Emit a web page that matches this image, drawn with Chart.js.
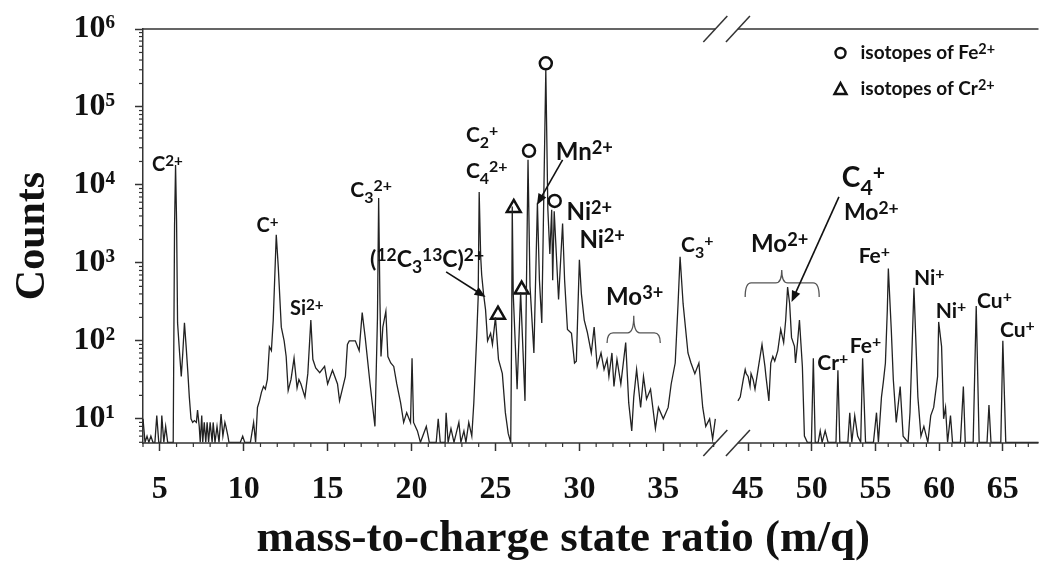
<!DOCTYPE html>
<html><head><meta charset="utf-8">
<script src="https://cdn.jsdelivr.net/npm/chart.js@4.4.1/dist/chart.umd.min.js"></script>
<style>html,body{margin:0;padding:0;background:#fff}canvas{display:block}</style>
</head><body>
<canvas id="c" width="1049" height="564"></canvas>
<script>
// ---------------- DATA ----------------
const mzLeft = [4.00,4.12,4.24,4.35,4.47,4.59,4.71,4.82,4.94,5.06,5.12,5.24,5.35,5.47,5.65,5.80,5.88,5.94,6.00,6.06,6.18,6.28,6.37,6.47,6.57,6.67,6.76,6.86,6.96,7.06,7.18,7.25,7.35,7.41,7.50,7.56,7.65,7.74,7.82,7.91,8.00,8.12,8.18,8.29,8.41,8.53,8.65,8.76,8.88,8.94,9.06,9.12,9.80,9.94,10.06,10.40,10.59,10.71,10.82,10.94,11.06,11.18,11.29,11.41,11.53,11.65,11.76,11.94,12.06,12.24,12.41,12.53,12.65,12.82,13.00,13.18,13.29,13.41,13.65,13.82,14.00,14.12,14.29,14.53,14.82,15.00,15.29,15.59,15.71,16.06,16.18,16.29,16.65,16.88,17.06,17.24,17.53,17.82,17.97,18.04,18.12,18.18,18.29,18.47,18.59,18.76,18.94,19.12,19.35,19.53,19.71,19.94,20.03,20.12,20.35,20.53,20.88,21.06,21.47,21.59,21.71,22.00,22.06,22.18,22.35,22.53,22.82,22.94,23.12,23.24,23.41,23.59,23.71,23.88,23.97,24.03,24.12,24.18,24.29,24.41,24.53,24.71,24.82,25.00,25.18,25.41,25.59,25.76,25.91,25.97,26.00,26.06,26.29,26.50,26.76,26.94,27.06,27.29,27.50,27.62,27.76,28.00,28.12,28.24,28.35,28.41,28.50,28.76,29.00,29.12,29.29,29.53,29.71,29.82,30.00,30.12,30.29,30.47,30.71,30.88,31.06,31.29,31.47,31.65,31.76,31.94,32.06,32.24,32.47,32.76,32.94,33.12,33.24,33.41,33.65,33.82,34.00,34.24,34.53,34.71,35.00,35.29,35.47,35.71,35.88,36.00,36.18,36.47,36.65,36.88,37.12,37.35,37.53,37.76,37.94,38.10];
const countsLeft = [10,5,6,5,6,5,5,11,5,5,11,5,8,5,5,5,3000,18000,3500,170,70,35,70,170,85,40,19,10,9,9.5,9,13,8,5,11,5,9,5,9,5,9,5,9,5,8,5,11.5,6,9,8,6,5,5,6,5,5,9,5,14,17,22,26,24,32,84,75,185,2300,890,150,100,63,23,32,60,25,32,28,19,38,185,58,45,39,47,28,42,28,17,35,90,100,100,75,230,110,28,8,200,6800,300,63,150,240,63,52,47,28,16,9,12,9,60,9,7,5,8,5,5,10,5,5,12,5,7.5,5,9,5,7,5,9,6,16,110,360,8100,1200,700,400,250,100,125,90,200,58,38,12,6.5,5,200,5300,400,24,420,17,21000,500,70,5900,600,170,300000,5000,1300,4800,600,4600,340,3200,600,140,125,52,55,1100,400,185,130,70,150,47,70,43,58,35,70,26,58,28,95,16,7,19,43,14,35,18,24,7.5,14,10,14,28,52,300,1200,300,70,52,38,52,14,8,10,5.5,10];
const mzRight = [44.20,44.38,44.62,44.77,44.85,45.00,45.15,45.23,45.39,45.54,45.78,46.09,46.32,46.40,46.63,46.78,46.94,47.09,47.33,47.56,47.79,47.95,48.10,48.26,48.41,48.64,48.72,48.88,49.03,49.26,49.42,49.65,49.97,50.12,50.27,50.50,50.66,50.81,51.05,51.28,51.90,52.05,52.20,52.83,52.98,53.14,53.37,53.60,53.84,53.99,54.22,54.84,55.08,55.23,55.47,55.62,55.78,55.93,56.01,56.24,56.40,56.63,56.94,57.17,57.56,57.71,58.02,58.33,58.57,58.80,59.11,59.34,59.57,59.88,59.96,60.19,60.35,60.50,60.66,60.89,61.05,61.67,61.90,62.05,62.67,62.91,63.14,63.76,63.91,64.07,64.84,65.00,65.23,67.80];
const countsRight = [17,19,32,43,38,35,26,38,32,24,43,90,47,35,17,52,63,55,75,140,95,185,490,300,110,85,52,95,185,47,6,5,5,60,5,5,7,5,7,5,5,42,5,5,12,5,11,6,5,60,5,5,12,5,19,30,52,250,850,140,32,9,26,6,5,12,480,19,6,8,5,11,14,35,175,85,10,14,5,11,5,5,26,5,5,280,5,5,15,5,5,100,5,5];
// isotope markers
const feIsoMz = [28.0, 27.0, 28.53];
const feIsoCounts = [363000, 27400, 6240];
const crIsoMz = [26.09, 26.56, 25.15];
const crIsoCounts = [5070, 455, 217];
// ticks & titles
const xTickValues = [5,10,15,20,25,30,35,45,50,55,60,65];
const yTickValues = [10,100,1000,10000,100000,1000000];
const yTickLabels = ['10\u00B9','10\u00B2','10\u00B3','10\u2074','10\u2075','10\u2076'];
const xTitle = 'mass-to-charge state ratio (m/q)';
const yTitle = 'Counts';

// ---------------- broken x axis layout ----------------
const xSegments = [{min:4, max:38.1, pxPerUnit:17}, {min:44.2, max:67.8, pxPerUnit:12.9}];
const xGapPx = 22.9;
const xTitleShift = -27.5;

class BrokenLinearScale extends Chart.LinearScale {
  determineDataLimits() { this.min = xSegments[0].min; this.max = xSegments[xSegments.length-1].max; }
  buildTicks() { return xTickValues.map(v => ({value: v})); }
  _total() { return xSegments.reduce((s,g)=>s+(g.max-g.min)*g.pxPerUnit,0) + xGapPx*(xSegments.length-1); }
  getPixelForValue(value) {
    const total = this._total(); let acc = 0;
    for (let i=0;i<xSegments.length;i++) {
      const g = xSegments[i], w = (g.max-g.min)*g.pxPerUnit;
      if (value <= g.max || i === xSegments.length-1) {
        const v = Math.max(value, g.min);
        return this.getPixelForDecimal((acc + (v-g.min)*g.pxPerUnit)/total);
      }
      acc += w + xGapPx;
    }
  }
  getValueForPixel(pixel) {
    const total = this._total(); let p = this.getDecimalForPixel(pixel)*total, acc = 0;
    for (const g of xSegments) {
      const w = (g.max-g.min)*g.pxPerUnit;
      if (p <= acc + w) return g.min + Math.max(0, p-acc)/g.pxPerUnit;
      acc += w + xGapPx;
    }
    return xSegments[xSegments.length-1].max;
  }
  drawTitle() {
    this.ctx.save(); this.ctx.translate(xTitleShift, 0); super.drawTitle(); this.ctx.restore();
  }
}
BrokenLinearScale.id = 'brokenLinear';
BrokenLinearScale.defaults = { ticks: { callback: v => String(v) } };
Chart.register(BrokenLinearScale);

// ---------------- annotations ----------------
const labelDefs = [
  {mz:4.53,  c:15100, s:20, parts:[['C'],['2+','sup']]},
  {mz:10.76, c:2500,  s:20, parts:[['C'],['+','sup']]},
  {mz:12.76, c:215,   s:20, parts:[['Si'],['2+','sup']]},
  {mz:16.35, c:7020,  s:21, parts:[['C'],['3','sub'],['2+','sup']]},
  {mz:23.24, c:35600, s:21, parts:[['C'],['2','sub'],['+','sup']]},
  {mz:23.24, c:12300, s:21, parts:[['C'],['4','sub'],['2+','sup']]},
  {mz:17.53, c:889,   s:23, parts:[['('],['12','sup'],['C'],['3','sub'],['13','sup'],['C)'],['2+','sup']]},
  {mz:28.59, c:20900, s:24, parts:[['Mn'],['2+','sup']]},
  {mz:29.24, c:3560,  s:24, parts:[['Ni'],['2+','sup']]},
  {mz:30.00, c:1556,  s:24, parts:[['Ni'],['2+','sup']]},
  {mz:36.06, c:1384,  s:21, parts:[['C'],['3','sub'],['+','sup']]},
  {mz:31.59, c:290,   s:24, parts:[['Mo'],['3+','sup']]},
  {mz:45.23, c:1384,  s:24, parts:[['Mo'],['2+','sup']]},
  {mz:52.36, c:9420,  s:28, parts:[['C'],['4','sub'],['+','sup']]},
  {mz:52.52, c:3560,  s:23, parts:[['Mo'],['2+','sup']]},
  {mz:53.68, c:1000,  s:21, parts:[['Fe'],['+','sup']]},
  {mz:58.02, c:522,   s:21, parts:[['Ni'],['+','sup']]},
  {mz:59.73, c:197,   s:21, parts:[['Ni'],['+','sup']]},
  {mz:62.98, c:265,   s:21, parts:[['Cu'],['+','sup']]},
  {mz:64.77, c:113,   s:21, parts:[['Cu'],['+','sup']]},
  {mz:50.43, c:42.5,  s:21, parts:[['Cr'],['+','sup']]},
  {mz:52.98, c:70,    s:21, parts:[['Fe'],['+','sup']]}
];
const arrowDefs = [
  {from:[22.06, 767], to:[24.41, 366]},
  {from:[29.0, 20900], to:[27.47, 5550]},
  {from:[52.13, 7020], to:[48.41, 316]}
];
const braceDefs = [
  {x0:31.65, x1:34.82, xc:33.24, yEnd:94,  yMid:127, yTop:210},
  {x0:44.77, x1:50.58, xc:47.64, yEnd:366, yMid:555, yTop:813}
];
const legendItems = [
  {symbol:'circle', parts:[['isotopes of Fe'],['2+','sup']]},
  {symbol:'triangle', parts:[['isotopes of Cr'],['2+','sup']]}
];
const LABEL_FONT = 'Lato';

function drawRich(ctx, x, y, parts, size) {
  let cx = x;
  for (const [t, kind] of parts) {
    let fs = size, dy = 0;
    if (kind === 'sup') { fs = size*0.76; dy = -size*0.26; }
    else if (kind === 'sub') { fs = size*0.76; dy = size*0.27; }
    ctx.font = `bold ${fs}px ${LABEL_FONT}`;
    ctx.fillText(t, cx, y + dy);
    cx += ctx.measureText(t).width;
  }
}
function drawArrow(ctx, x1, y1, x2, y2) {
  const a = Math.atan2(y2-y1, x2-x1), L = 11, W = 4.5;
  ctx.beginPath(); ctx.moveTo(x1,y1); ctx.lineTo(x2 - 6*Math.cos(a), y2 - 6*Math.sin(a)); ctx.stroke();
  ctx.beginPath(); ctx.moveTo(x2,y2);
  ctx.lineTo(x2 - L*Math.cos(a) + W*Math.sin(a), y2 - L*Math.sin(a) - W*Math.cos(a));
  ctx.lineTo(x2 - L*Math.cos(a) - W*Math.sin(a), y2 - L*Math.sin(a) + W*Math.cos(a));
  ctx.closePath(); ctx.fill();
}

const decorPlugin = {
  id: 'decor',
  afterDraw(chart) {
    const {ctx, chartArea: ca} = chart;
    const xs = chart.scales.x, ys = chart.scales.y;
    ctx.save();
    ctx.strokeStyle = '#333'; ctx.fillStyle = '#111'; ctx.lineWidth = 1.5;
    // axis lines (bottom & top) with break gap
    const gapL = xs.getPixelForValue(xSegments[0].max), gapR = xs.getPixelForValue(xSegments[1].min);
    for (const yy of [ca.top, ca.bottom]) {
      ctx.beginPath(); ctx.moveTo(ca.left, yy); ctx.lineTo(gapL, yy);
      ctx.moveTo(gapR, yy); ctx.lineTo(ca.right, yy); ctx.stroke();
      for (const cx of [gapL, gapR]) {
        ctx.beginPath(); ctx.moveTo(cx-12, yy+13); ctx.lineTo(cx+12, yy-13); ctx.stroke();
      }
    }
    // minor x ticks
    ctx.lineWidth = 1.2;
    for (const g of xSegments) {
      for (let m = Math.ceil(g.min); m <= g.max; m++) {
        if (xTickValues.includes(m)) continue;
        const px = xs.getPixelForValue(m);
        ctx.beginPath(); ctx.moveTo(px, ca.bottom); ctx.lineTo(px, ca.bottom+4); ctx.stroke();
      }
    }
    // minor y ticks
    for (let e = 0; e < 6; e++) {
      for (let k = 2; k <= 9; k++) {
        const v = k*Math.pow(10,e);
        if (v < ys.min || v > ys.max) continue;
        const py = ys.getPixelForValue(v);
        ctx.beginPath(); ctx.moveTo(ca.left-4, py); ctx.lineTo(ca.left, py); ctx.stroke();
      }
    }
    // braces
    ctx.strokeStyle = '#555'; ctx.lineWidth = 1.3;
    for (const b of braceDefs) {
      const x0 = xs.getPixelForValue(b.x0), x1 = xs.getPixelForValue(b.x1), xc = xs.getPixelForValue(b.xc);
      const ye = ys.getPixelForValue(b.yEnd), ym = ys.getPixelForValue(b.yMid), yt = ys.getPixelForValue(b.yTop);
      const r = 6;
      ctx.beginPath();
      ctx.moveTo(x0, ye); ctx.quadraticCurveTo(x0, ym, x0+r, ym);
      ctx.lineTo(xc-r, ym); ctx.quadraticCurveTo(xc, ym, xc, yt);
      ctx.quadraticCurveTo(xc, ym, xc+r, ym);
      ctx.lineTo(x1-r, ym); ctx.quadraticCurveTo(x1, ym, x1, ye);
      ctx.stroke();
    }
    // arrows
    ctx.strokeStyle = '#111'; ctx.fillStyle = '#111'; ctx.lineWidth = 1.6;
    for (const a of arrowDefs) {
      drawArrow(ctx, xs.getPixelForValue(a.from[0]), ys.getPixelForValue(a.from[1]),
                     xs.getPixelForValue(a.to[0]), ys.getPixelForValue(a.to[1]));
    }
    // labels
    ctx.fillStyle = '#111'; ctx.textBaseline = 'alphabetic'; ctx.textAlign = 'left';
    for (const l of labelDefs) {
      drawRich(ctx, xs.getPixelForValue(l.mz), ys.getPixelForValue(l.c), l.parts, l.s);
    }
    // legend (upper right)
    const lx = ca.right - 198, ly0 = ca.top + 24, lstep = 36;
    legendItems.forEach((it, i) => {
      const cy = ly0 + i*lstep;
      ctx.lineWidth = 2.4; ctx.strokeStyle = '#111';
      ctx.beginPath();
      if (it.symbol === 'circle') { ctx.arc(lx, cy, 5, 0, Math.PI*2); }
      else { ctx.moveTo(lx, cy-6); ctx.lineTo(lx+6, cy+5); ctx.lineTo(lx-6, cy+5); ctx.closePath(); }
      ctx.stroke();
      drawRich(ctx, lx + 20, cy + 6, it.parts, 19);
    });
    ctx.restore();
  }
};

const serif = 'Liberation Serif';
new Chart(document.getElementById('c'), {
  type: 'line',
  data: {
    datasets: [
      {data: mzLeft.map((m,i)=>({x:m, y:countsLeft[i]})), borderColor:'#222', borderWidth:1.3, pointRadius:0, tension:0, fill:false},
      {data: mzRight.map((m,i)=>({x:m, y:countsRight[i]})), borderColor:'#222', borderWidth:1.3, pointRadius:0, tension:0, fill:false},
      {data: feIsoMz.map((m,i)=>({x:m, y:feIsoCounts[i]})), showLine:false, pointStyle:'circle', pointRadius:6, borderColor:'#111', backgroundColor:'#fff', pointBorderWidth:2.5},
      {data: crIsoMz.map((m,i)=>({x:m, y:crIsoCounts[i]})), showLine:false, pointStyle:'triangle', pointRadius:8, borderColor:'#111', backgroundColor:'#fff', pointBorderWidth:2.5}
    ]
  },
  options: {
    responsive: false, animation: false, events: [],
    layout: {padding: {top: 29, right: 0, left: 0, bottom: 0}},
    plugins: {legend: {display:false}, tooltip: {enabled:false}},
    scales: {
      x: {
        type: 'brokenLinear',
        afterFit: s => { s.height = 121; s.paddingLeft = 0; s.paddingRight = 0; },
        border: {display:false},
        grid: {drawOnChartArea:false, drawTicks:true, tickLength:8, tickColor:'#333', tickWidth:1.5},
        ticks: {autoSkip:false, maxRotation:0, padding:20, color:'#111', font:{family:serif, weight:'bold', size:32}, callback: v => String(v)},
        title: {display:true, text:xTitle, color:'#111', font:{family:serif, weight:'bold', size:45, lineHeight:1}, padding:{top:0, bottom:2}}
      },
      y: {
        type: 'logarithmic', min: 4.9, max: 1000000,
        afterFit: s => { s.width = 143; s.paddingTop = 0; s.paddingBottom = 0; },
        afterBuildTicks: axis => { axis.ticks = yTickValues.map(v => ({value:v, major:true})); },
        border: {display:true, color:'#333', width:1.5},
        grid: {drawOnChartArea:false, drawTicks:true, tickLength:8, tickColor:'#333', tickWidth:1.5},
        ticks: {autoSkip:false, padding:20, color:'#111', font:{family:serif, weight:'bold', size:32},
                callback: v => { const i = yTickValues.indexOf(v); return i >= 0 ? yTickLabels[i] : ''; }},
        title: {display:true, text:yTitle, color:'#111', font:{family:serif, weight:'bold', size:42, lineHeight:1}, padding:{top:12, bottom:0}}
      }
    }
  },
  plugins: [decorPlugin]
});
</script>
</body></html>
